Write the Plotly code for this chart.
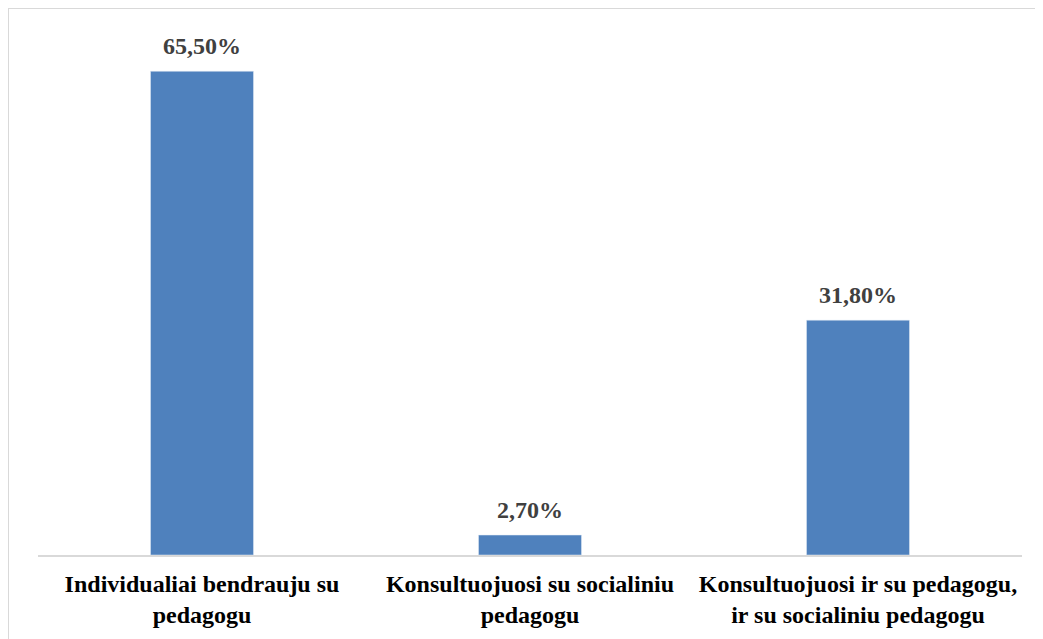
import plotly.graph_objects as go

# Survey answers (share of respondents, %)
categories = [
    "Individualiai bendrauju su<br>pedagogu",
    "Konsultuojuosi su socialiniu<br>pedagogu",
    "Konsultuojuosi ir su pedagogu,<br>ir su socialiniu pedagogu",
]
shares = [65.5, 2.7, 31.8]

FONT = "Liberation Serif, Times New Roman, serif"
L, R, T, B = 30, 29, 30, 92
W, H = 1043, 639
pw, ph = W - L - R, H - T - B

fig = go.Figure(go.Bar(
    x=categories,
    y=shares,
    marker_color="#4F81BD",
    width=0.314,
))

# value labels above bars
for c, v in zip(categories, shares):
    fig.add_annotation(x=c, y=v, text="<b>" + f"{v:.2f}".replace(".", ",") + "%</b>",
                       showarrow=False, yanchor="bottom", yshift=10,
                       font=dict(family=FONT, size=24, color="#404040"))

fig.update_layout(
    width=W, height=H,
    margin=dict(l=L, r=R, t=T, b=B),
    paper_bgcolor="white", plot_bgcolor="white",
    showlegend=False,
    font=dict(family=FONT, size=24, color="black"),
    # chart border along the figure edge
    shapes=[dict(type="rect", xref="paper", yref="paper",
                 x0=-L / pw, x1=1 + R / pw, y0=-B / ph, y1=1 + T / ph,
                 line=dict(color="#D9D9D9", width=2), layer="below")],
)

fig.update_xaxes(
    showline=True, linecolor="#D9D9D9", linewidth=1.5,
    ticks="", ticklabelstandoff=6,
    tickvals=categories,
    ticktext=["<b>" + c + "</b>" for c in categories],
    tickfont=dict(family=FONT, size=24, color="black"),
    showgrid=False,
)
fig.update_yaxes(range=[0, 70], visible=False, showgrid=False)

fig.write_html("out.html")
